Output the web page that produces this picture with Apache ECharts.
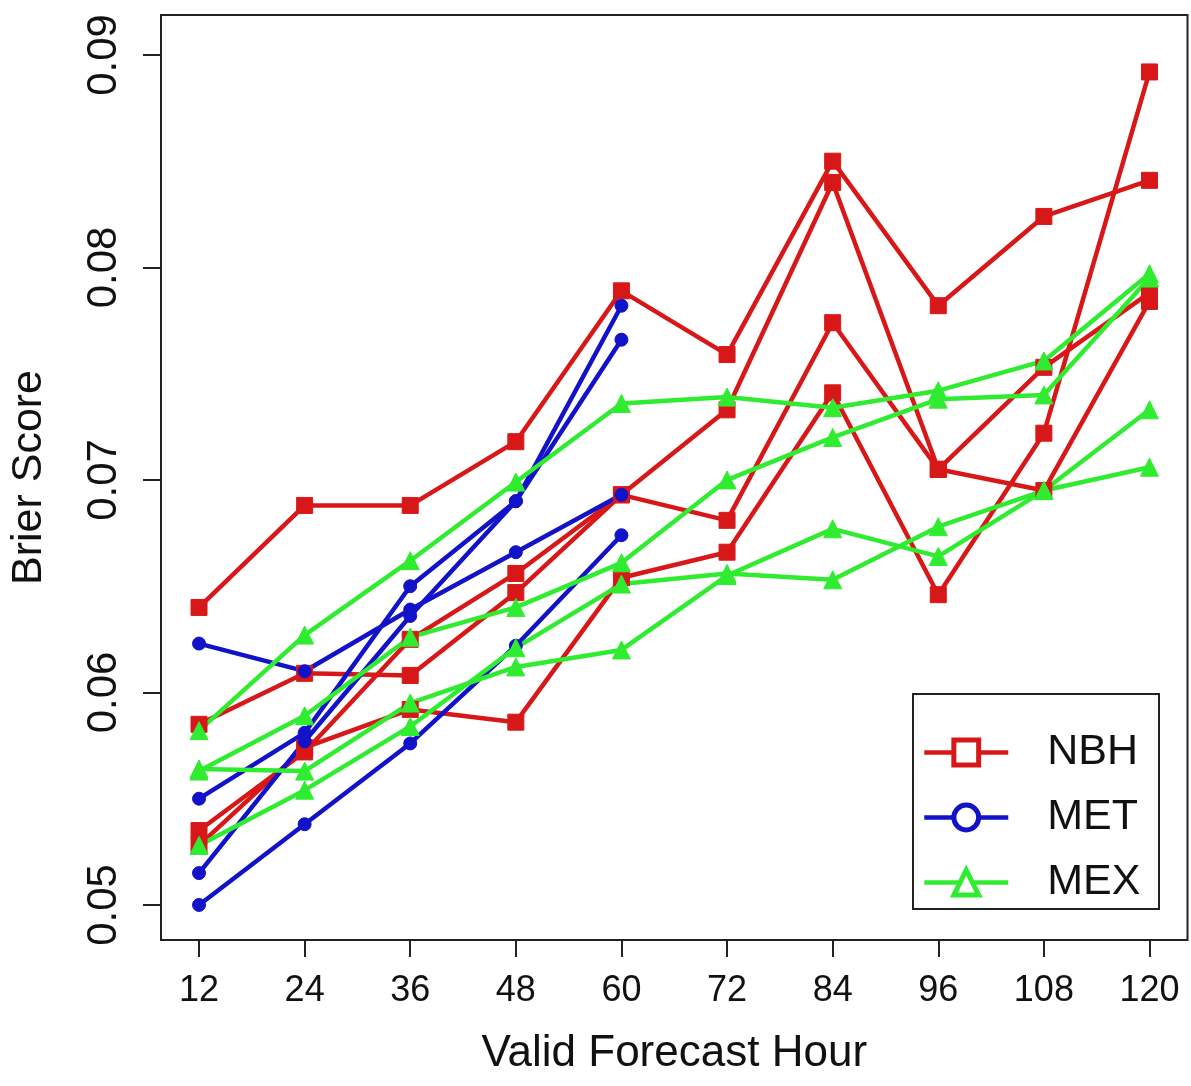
<!DOCTYPE html>
<html><head><meta charset="utf-8">
<script src="https://cdn.jsdelivr.net/npm/echarts@6/dist/echarts.min.js"></script>
<style>html,body{margin:0;padding:0;background:#fff}#c{width:1191px;height:1086px}</style>
</head><body><div id="c"></div>
<script>
// x positions (Valid Forecast Hour)
const hours = [12, 24, 36, 48, 60, 72, 84, 96, 108, 120];
const metHours = [12, 24, 36, 48, 60];
const xTicks = [12, 24, 36, 48, 60, 72, 84, 96, 108, 120];
const yTicks = [0.05, 0.06, 0.07, 0.08, 0.09];

// NBH (red, squares)
const nbh1 = [0.0640, 0.0688, 0.0688, 0.0718, 0.0789, 0.0759, 0.0850, 0.0782, 0.0824, 0.0841];
const nbh2 = [0.0585, 0.0609, 0.0608, 0.0647, 0.0693, 0.0681, 0.0774, 0.0705, 0.0753, 0.0788];
const nbh3 = [0.0535, 0.0572, 0.0625, 0.0656, 0.0693, 0.0733, 0.0840, 0.0705, 0.0695, 0.0784];
const nbh4 = [0.0528, 0.0574, 0.0592, 0.0586, 0.0654, 0.0666, 0.0741, 0.0646, 0.0722, 0.0892];

// MET (blue, circles) – only to hour 60
const met1 = [0.0623, 0.0610, 0.0639, 0.0666, 0.0693];
const met2 = [0.0550, 0.0581, 0.0650, 0.0690, 0.0782];
const met3 = [0.0515, 0.0577, 0.0636, 0.0690, 0.0766];
const met4 = [0.0500, 0.0538, 0.0576, 0.0622, 0.0674];

// MEX (green, triangles)
const mex1 = [0.0582, 0.0627, 0.0662, 0.0699, 0.0736, 0.0739, 0.0734, 0.0742, 0.0756, 0.0797];
const mex2 = [0.0563, 0.0589, 0.0626, 0.0640, 0.0661, 0.0700, 0.0720, 0.0738, 0.0740, 0.0795];
const mex3 = [0.0564, 0.0563, 0.0595, 0.0612, 0.0620, 0.0655, 0.0677, 0.0664, 0.0695, 0.0733];
const mex4 = [0.0528, 0.0554, 0.0584, 0.0621, 0.0651, 0.0656, 0.0653, 0.0678, 0.0695, 0.0706];

const RED = '#D81818', BLUE = '#1212C8', GREEN = '#30EC30';
const FONT = '"Liberation Sans", Arial, sans-serif';

function mk(name, xs, ys, color, symbol, size) {
  return {
    type: 'line', name: name,
    data: xs.map((x, i) => [x, ys[i]]),
    symbol: symbol, symbolSize: size, showSymbol: true,
    lineStyle: { color: color, width: 4.5 },
    itemStyle: { color: color, borderColor: color, borderWidth: 1 },
    emphasis: { disabled: true },
    animation: false
  };
}

const series = [
  mk('NBH', hours, nbh1, RED, 'rect', 16),
  mk('NBH', hours, nbh2, RED, 'rect', 16),
  mk('NBH', hours, nbh3, RED, 'rect', 16),
  mk('NBH', hours, nbh4, RED, 'rect', 16),
  mk('MET', metHours, met1, BLUE, 'circle', 13),
  mk('MET', metHours, met2, BLUE, 'circle', 13),
  mk('MET', metHours, met3, BLUE, 'circle', 13),
  mk('MET', metHours, met4, BLUE, 'circle', 13),
  mk('MEX', hours, mex1, GREEN, 'triangle', 18),
  mk('MEX', hours, mex2, GREEN, 'triangle', 18),
  mk('MEX', hours, mex3, GREEN, 'triangle', 18),
  mk('MEX', hours, mex4, GREEN, 'triangle', 18)
];

const chart = echarts.init(document.getElementById('c'), null, { renderer: 'canvas' });
chart.setOption({
  animation: false,
  backgroundColor: '#ffffff',
  textStyle: { fontFamily: FONT },
  grid: {
    left: 161, right: 3.5, top: 15, bottom: 146,
    show: true, borderColor: '#222', borderWidth: 2, backgroundColor: 'transparent'
  },
  xAxis: {
    type: 'value', min: 7.68, max: 124.32,
    axisLine: { show: false },
    splitLine: { show: false },
    axisTick: { show: true, inside: false, length: 17, customValues: xTicks, lineStyle: { color: '#222', width: 2 } },
    axisLabel: { customValues: xTicks, fontSize: 36, color: '#111', margin: 33, fontFamily: FONT },
    name: 'Valid Forecast Hour', nameLocation: 'middle', nameGap: 92,
    nameTextStyle: { fontSize: 44, color: '#111', fontFamily: FONT }
  },
  yAxis: {
    type: 'value', min: 0.04835, max: 0.09188,
    axisLine: { show: false },
    splitLine: { show: false },
    axisTick: { show: true, inside: false, length: 18, customValues: yTicks, lineStyle: { color: '#222', width: 2 } },
    axisLabel: { customValues: yTicks, fontSize: 42, color: '#111', rotate: 90, margin: 36, fontFamily: FONT,
      formatter: v => v.toFixed(2) },
    name: 'Brier Score', nameLocation: 'middle', nameGap: 110,
    nameTextStyle: { fontSize: 43, color: '#111', fontFamily: FONT }
  },
  legend: {
    orient: 'vertical', left: 922, top: 731,
    itemWidth: 84, itemHeight: 31, itemGap: 22,
    padding: 0,
    lineStyle: { width: 4.5 },
    data: [
      { name: 'NBH', itemStyle: { color: '#fff', borderColor: RED, borderWidth: 5 } },
      { name: 'MET', itemStyle: { color: '#fff', borderColor: BLUE, borderWidth: 5 } },
      { name: 'MEX', itemStyle: { color: '#fff', borderColor: GREEN, borderWidth: 5 } }
    ],
    textStyle: { fontSize: 43, color: '#111', fontFamily: FONT, padding: [0, 0, 0, 34] },
    selectedMode: false
  },
  graphic: [{
    type: 'rect', left: 912, top: 693, z: -1,
    shape: { width: 246, height: 215 },
    style: { fill: '#fff', stroke: '#222', lineWidth: 2 }
  }],
  series: series
});
</script></body></html>
